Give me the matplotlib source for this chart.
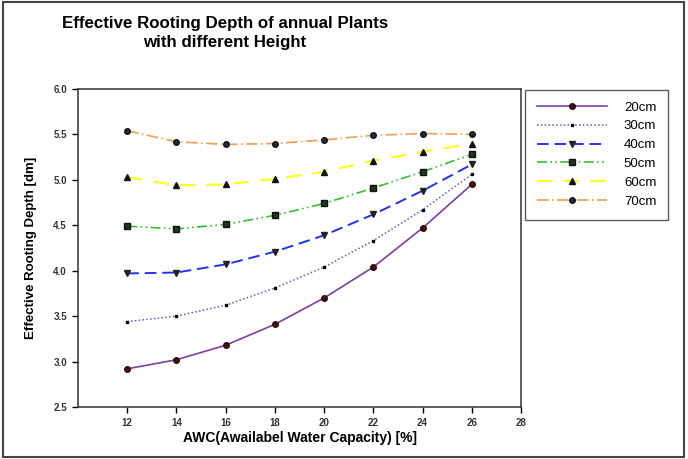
import numpy as np
import matplotlib.pyplot as plt
from matplotlib.patches import Rectangle

plt.rcParams['font.family'] = ['Liberation Sans', 'DejaVu Sans']

# Данные
awc = [12, 14, 16, 18, 20, 22, 24, 26]
h20 = [2.92, 3.02, 3.18, 3.41, 3.70, 4.04, 4.47, 4.95]
h30 = [3.44, 3.50, 3.62, 3.81, 4.04, 4.33, 4.67, 5.06]
h40 = [3.97, 3.98, 4.07, 4.21, 4.39, 4.62, 4.88, 5.17]
h50 = [4.49, 4.46, 4.51, 4.61, 4.74, 4.91, 5.09, 5.28]
h60 = [5.03, 4.94, 4.95, 5.01, 5.09, 5.21, 5.31, 5.40]
h70 = [5.54, 5.42, 5.39, 5.40, 5.44, 5.49, 5.51, 5.50]
labels = ['20cm', '30cm', '40cm', '50cm', '60cm', '70cm']

fig = plt.figure(figsize=(6.88, 4.59), dpi=100)
ax = fig.add_axes([0.1134, 0.1133, 0.6439, 0.6928])

ax.plot(awc, h20, color='#7b3fa0', lw=1.2, ls='-', marker='o', ms=4,
        mfc='#4a0a10', mec='#2a0a0a', label=labels[0])
ax.plot(awc, h30, color='#5a5ac8', lw=1.1, ls=(0, (1, 1.5)), marker='s', ms=2,
        mfc='black', mec='black', label=labels[1])
ax.plot(awc, h40, color='#2233ee', lw=1.4, ls=(0, (6, 3)), marker='v', ms=4.5,
        mfc='#222222', mec='#222222', label=labels[2])
ax.plot(awc, h50, color='#33c033', lw=1.2, ls=(0, (6, 2, 1, 2, 1, 2)), marker='s', ms=4,
        mfc='#1a3a1a', mec='#111111', label=labels[3])
ax.plot(awc, h60, color='#ffff22', lw=1.6, ls=(0, (7, 5)), marker='^', ms=4,
        mfc='#111111', mec='#111111', label=labels[4])
ax.plot(awc, h70, color='#f0a050', lw=1.2, ls=(0, (7, 2, 1, 2)), marker='o', ms=4,
        mfc='#1a2a40', mec='#111111', label=labels[5])

ax.set_xlim(10, 28)
ax.set_ylim(2.5, 6.0)
ax.set_xticks([12, 14, 16, 18, 20, 22, 24, 26, 28])
ax.set_yticks(np.arange(2.5, 6.01, 0.5))
ax.yaxis.set_major_formatter(plt.FormatStrFormatter('%.1f'))
ax.tick_params(direction='out', length=4, width=1, labelsize=7, pad=4)
for t in ax.get_xticklabels() + ax.get_yticklabels():
    t.set_fontweight('bold')
    t.set_color('#333333')
for s in ax.spines.values():
    s.set_linewidth(1.1)
    s.set_color('#333333')

ax.set_xlabel('AWC(Awailabel Water Capacity) [%]', fontsize=10, fontweight='bold', labelpad=2)
ax.set_ylabel('Effective Rooting Depth [dm]', fontsize=9.5, fontweight='bold', labelpad=12)

fig.text(0.327, 0.965, 'Effective Rooting Depth of annual Plants\nwith different Height',
         ha='center', va='top', fontsize=12.2, fontweight='bold', linespacing=1.3)

leg = fig.legend(loc='upper left', bbox_to_anchor=(0.763, 0.805), borderaxespad=0,
                 fontsize=9.5, frameon=True, fancybox=False, edgecolor='#333333',
                 handlelength=5.3, borderpad=0.9, labelspacing=0.5, handletextpad=1.3)
leg.get_frame().set_linewidth(1.0)

fig.patches.append(Rectangle((0.004, 0.005), 0.99, 0.99, transform=fig.transFigure,
                             fill=False, edgecolor='#444444', lw=1.5))

plt.savefig('out.png', dpi=100)
